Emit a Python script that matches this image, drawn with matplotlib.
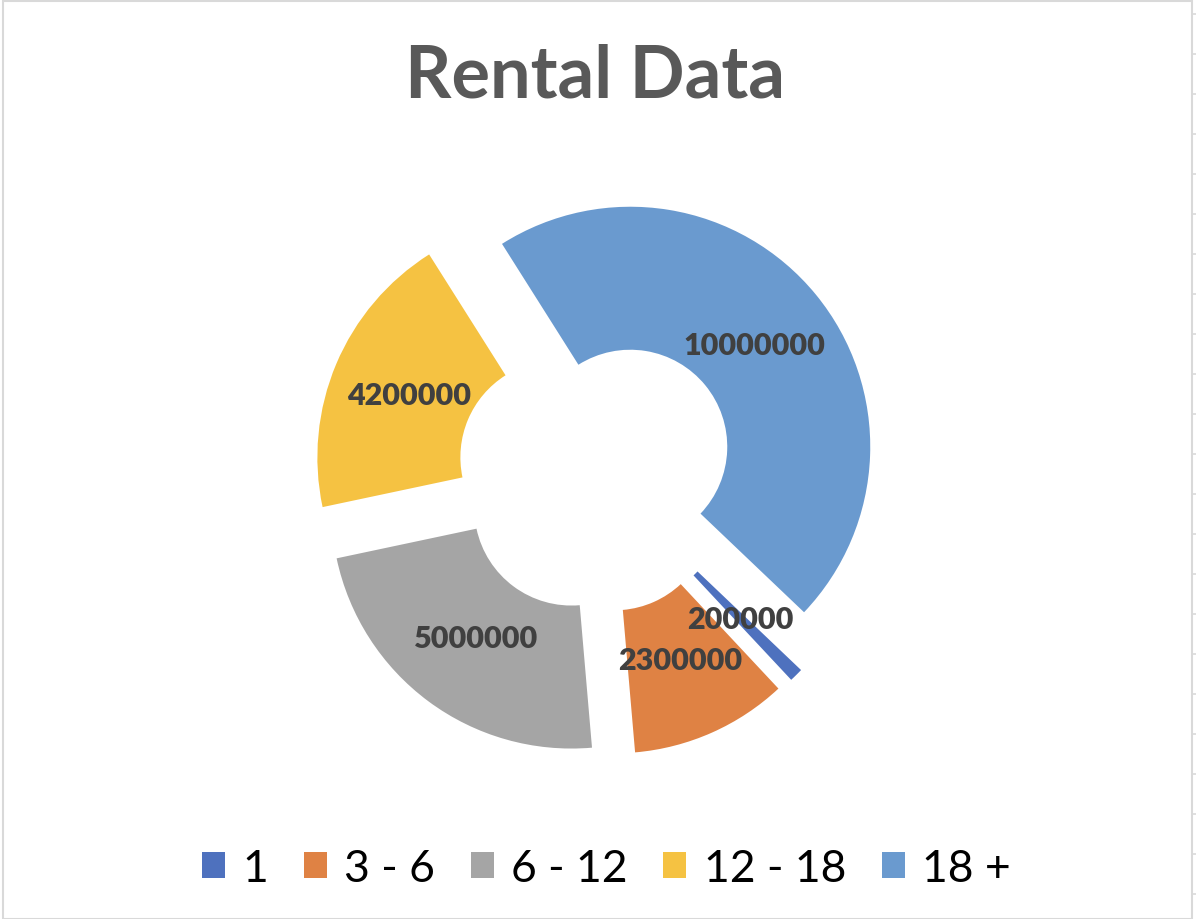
import matplotlib
matplotlib.use("Agg")
import matplotlib.pyplot as plt
from matplotlib.patches import Patch, Rectangle

# rental data
categories = ["1", "3 - 6", "6 - 12", "12 - 18", "18 +"]
values = [200000, 2300000, 5000000, 4200000, 10000000]
colors = ["#4E71BE", "#DF8244", "#A5A5A5", "#F5C242", "#6A9ACF"]
title = "Rental Data"

plt.rcParams['font.family'] = ['Lato', 'DejaVu Sans']

fig = plt.figure(figsize=(11.96, 9.2), dpi=100)
ax = fig.add_axes([0, 0, 1, 1])

total = sum(values)
wedges, texts, autotexts = ax.pie(
    values,
    colors=colors,
    center=(597, 445),
    radius=240,
    startangle=-43.6,
    counterclock=False,
    explode=[43] * len(values),
    wedgeprops=dict(width=143, edgecolor='none'),
    autopct=lambda p: f"{round(p * total / 100, -5):.0f}",
    pctdistance=0.67,
    textprops=dict(fontsize=22, fontweight='heavy', color='#404040'),
)

ax.set_xlim(0, 1196)
ax.set_ylim(0, 920)
ax.set_aspect('equal')
ax.axis('off')

fig.text(0.4975, 1 - 97 / 920, title, ha='center', va='baseline',
         fontsize=52, fontweight='bold', color='#595959')

handles = [Patch(facecolor=c, edgecolor='none', label=l) for c, l in zip(colors, categories)]
fig.legend(handles=handles, loc='center', bbox_to_anchor=(0.507, 0.055), ncol=5,
           frameon=False, fontsize=32, handlelength=0.52, handleheight=0.52,
           handletextpad=0.39, columnspacing=0.8, labelcolor='black')

# chart border and sheet gridline stubs
fig.patches.append(Rectangle((3 / 1196, 0.5 / 920), 1189 / 1196, 918 / 920,
                             transform=fig.transFigure, fill=False,
                             edgecolor='#D9D9D9', linewidth=1.5))
for yy in range(15, 920, 40):
    fig.add_artist(plt.Line2D([1192 / 1196, 1196 / 1196], [1 - yy / 920, 1 - yy / 920],
                              transform=fig.transFigure, color='#D9D9D9', linewidth=1.2))

fig.savefig("out.png", dpi=100)
